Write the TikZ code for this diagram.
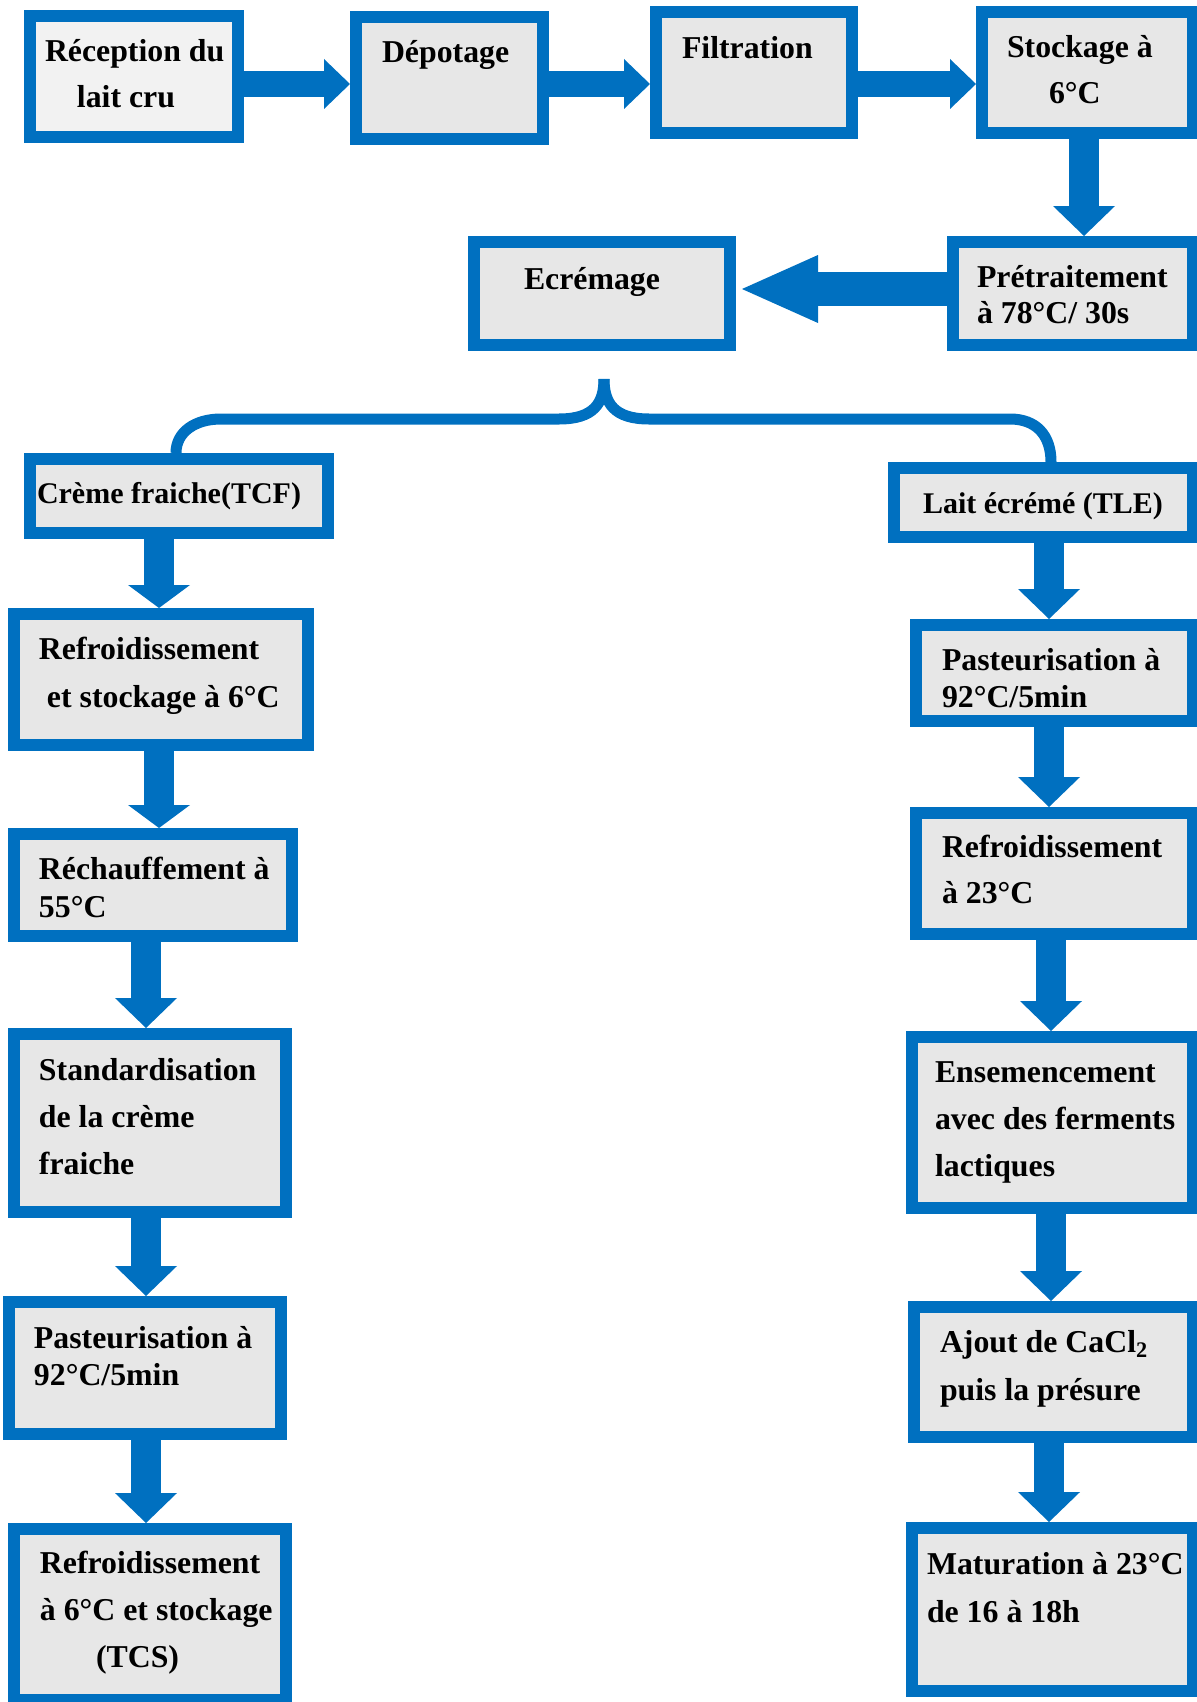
\documentclass[tikz,border=0pt]{standalone}
\usepackage{fontspec}
\setmainfont{Liberation Serif}
\usetikzlibrary{arrows.meta}
\definecolor{flowblue}{RGB}{0,112,192}
\definecolor{boxgray}{RGB}{231,231,231}
\definecolor{boxlight}{RGB}{242,242,242}

% width, height, first baseline, lines
\newcommand{\boxtext}[4]{\parbox[c][#2][t]{#1}{\raggedright\rule{0pt}{#3}#4}}

\tikzset{
  box/.style={draw=flowblue, line width=6pt, fill=boxgray, inner sep=0pt, anchor=north west},
  txt/.style={font=\bfseries\fontsize{15.9}{#1}\selectfont},
  txtsmall/.style={font=\bfseries\fontsize{15}{18}\selectfont},
  rarrow/.style={draw=flowblue, line width=13pt, -{Triangle[length=13pt, width=25pt, line width=0pt]}},
  darrow/.style={draw=flowblue, line width=15pt, -{Triangle[length=15pt, width=31pt, line width=0pt]}},
  larrow/.style={draw=flowblue, line width=17pt, shorten >=3pt, -{Triangle[length=38pt, width=34pt, line width=0pt]}},
  brace/.style={draw=flowblue, line width=5.5pt}
}

\begin{document}
\begin{tikzpicture}[x=0.5pt,y=-0.5pt]
\useasboundingbox (0,0) rectangle (1197,1702);

% top row
\node[box, fill=boxlight, txt=23pt] (recep) at (24,10) {\boxtext{104pt}{60.5pt}{23pt}{\hspace*{7.5pt}Réception du\\\hspace*{23.5pt}lait cru}};
\node[box, txt=23pt] (depot) at (350,11) {\boxtext{93.5pt}{61pt}{23pt}{\hspace*{13pt}Dépotage}};
\node[box, txt=23pt] (filtr) at (650,6) {\boxtext{98pt}{60.5pt}{23.5pt}{\hspace*{13pt}Filtration}};
\node[box, txt=23pt] (stock) at (976,6) {\boxtext{105.5pt}{60.5pt}{23pt}{\hspace*{12.5pt}Stockage à\\\hspace*{33.5pt}6°C}};
\node[box, txt=18pt] (pretr) at (947,236) {\boxtext{120pt}{51.5pt}{22.5pt}{\hspace*{12pt}Prétraitement\\\hspace*{12pt}à 78°C/ 30s}};
\node[box, txt=23pt] (ecrem) at (468,236) {\boxtext{128pt}{51.5pt}{23.5pt}{\hspace*{25pt}Ecrémage}};

% two branches
\node[box, txtsmall] (tcf) at (24,453) {\boxtext{149pt}{37pt}{22pt}{\hspace*{3.5pt}Crème fraiche(TCF)}};
\node[box, txtsmall] (tle) at (888,462) {\boxtext{149.5pt}{34.5pt}{22.5pt}{\hspace*{14.5pt}Lait écrémé (TLE)}};

% cream column
\node[box, txt=24pt] (coolL) at (8,608) {\boxtext{147pt}{65.5pt}{22.5pt}{\hspace*{12.5pt}Refroidissement\\\hspace*{16.5pt}et stockage à 6°C}};
\node[box, txt=19pt] (heat) at (8,828) {\boxtext{139pt}{51pt}{22.5pt}{\hspace*{12.5pt}Réchauffement à\\\hspace*{12.5pt}55°C}};
\node[box, txt=23.5pt] (stand) at (8,1028) {\boxtext{136pt}{89pt}{23pt}{\hspace*{12.5pt}Standardisation\\\hspace*{12.5pt}de la crème\\\hspace*{12.5pt}fraiche}};
\node[box, txt=18.5pt] (pastL) at (3,1296) {\boxtext{136pt}{66pt}{23pt}{\hspace*{12.5pt}Pasteurisation à\\\hspace*{12.5pt}92°C/5min}};
\node[box, txt=23.7pt] (coolT) at (8,1523) {\boxtext{136pt}{85.5pt}{22pt}{\hspace*{13pt}Refroidissement\\\hspace*{13pt}à 6°C et stockage\\\hspace*{41pt}(TCS)}};

% skim milk column
\node[box, txt=18.5pt] (pastR) at (910,619) {\boxtext{138.5pt}{48pt}{22.5pt}{\hspace*{13pt}Pasteurisation à\\\hspace*{13pt}92°C/5min}};
\node[box, txt=23pt] (coolR) at (910,807) {\boxtext{138.5pt}{60.5pt}{22pt}{\hspace*{13pt}Refroidissement\\\hspace*{13pt}à 23°C}};
\node[box, txt=23.5pt] (inoc) at (906,1031) {\boxtext{140.5pt}{85.5pt}{22.5pt}{\hspace*{11.5pt}Ensemencement\\\hspace*{11.5pt}avec des ferments\\\hspace*{11.5pt}lactiques}};
\node[box, txt=24pt] (cacl) at (908,1301) {\boxtext{139.5pt}{65pt}{22.5pt}{\hspace*{13pt}Ajout de CaCl\textsubscript{2}\\\hspace*{13pt}puis la présure}};
\node[box, txt=24pt] (matur) at (906,1522) {\boxtext{140.5pt}{81.5pt}{23pt}{\hspace*{7.5pt}Maturation à 23°C\\\hspace*{7.5pt}de 16 à 18h}};

\coordinate (rowA) at (0,84);
\coordinate (rowB) at (0,289);
\coordinate (colS) at (1084,0);
\coordinate (colA) at (159,0);
\coordinate (colB) at (146,0);
\coordinate (colC) at (1049,0);
\coordinate (colD) at (1051,0);
\coordinate (legL) at (176,0);
\coordinate (legR) at (1051,0);
\coordinate (bracetip) at (604,379);

% arrows
\draw[rarrow] (recep.east |- rowA) -- (depot.west |- rowA);
\draw[rarrow] (depot.east |- rowA) -- (filtr.west |- rowA);
\draw[rarrow] (filtr.east |- rowA) -- (stock.west |- rowA);
\draw[darrow] (stock.south -| colS) -- (pretr.north -| colS);
\draw[larrow] (pretr.west |- rowB) -- (ecrem.east |- rowB);

% brace
\draw[brace] (bracetip) .. controls (604,403) and (594,419) .. (559,419) -- (221,419) .. controls (195,419) and (176,432) .. (tcf.north -| legL);
\draw[brace] (bracetip) .. controls (604,403) and (614,419) .. (649,419) -- (1010,419) .. controls (1036,419) and (1051,435) .. (tle.north -| legR);

\foreach \a/\b in {tcf/coolL, coolL/heat}
  \draw[darrow, -{Triangle[length=11.5pt, width=31pt, line width=0pt]}] (\a.south -| colA) -- (\b.north -| colA);
\foreach \a/\b/\c in {heat/stand/colB, stand/pastL/colB, pastL/coolT/colB, tle/pastR/colC, pastR/coolR/colC, coolR/inoc/colD, inoc/cacl/colD, cacl/matur/colC}
  \draw[darrow] (\a.south -| \c) -- (\b.north -| \c);
\end{tikzpicture}
\end{document}
